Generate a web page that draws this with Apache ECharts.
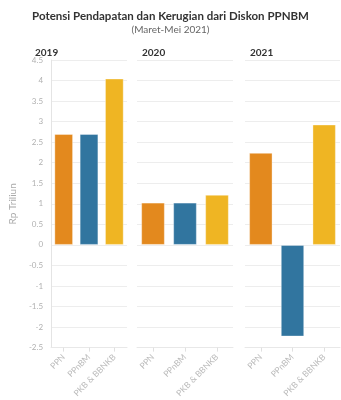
<!DOCTYPE html>
<html><head><meta charset="utf-8">
<script src="https://cdn.jsdelivr.net/npm/echarts@6/dist/echarts.min.js"></script>
<style>html,body{margin:0;padding:0;background:#fff}
#wrap{position:relative;width:341px;height:400px;overflow:hidden}
.p{position:absolute}
#t{left:0;top:0;width:341px;height:40px}
#p0{left:0;top:40px;width:130px;height:360px}
#p1{left:130px;top:40px;width:108px;height:360px}
#p2{left:238px;top:40px;width:103px;height:360px}
</style>
</head><body><div id="wrap"><div class="p" id="t"></div><div class="p" id="p0"></div><div class="p" id="p1"></div><div class="p" id="p2"></div></div>
<script>
const categories = ['PPN', 'PPnBM', 'PKB & BBNKB'];
const years = ['2019', '2020', '2021'];
const values2019 = [2.7, 2.7, 4.05];
const values2020 = [1.03, 1.03, 1.22];
const values2021 = [2.24, -2.23, 2.93];
const yTicks = { min: -2.5, max: 4.5, interval: 0.5 };
const colors = ['#E3891E', '#31759F', '#EFB523'];

const allValues = [values2019, values2020, values2021];
const font = 'Lato, "Open Sans", sans-serif';
const panelGrids = [
  { left: 30, top: 20, width: 97, height: 289 },
  { left: 7, top: 20, width: 96, height: 289 },
  { left: 7, top: 20, width: 95, height: 289 }
];

const head = echarts.init(document.getElementById('t'));
head.setOption({
  animation: false,
  title: [
    { text: 'Potensi Pendapatan dan Kerugian dari Diskon PPNBM', left: 'center', top: 5,
      textStyle: { fontFamily: font, fontSize: 11.5, fontWeight: 'bold', color: '#333' } },
    { text: '(Maret-Mei 2021)', left: 'center', top: 20,
      textStyle: { fontFamily: font, fontSize: 10, fontWeight: 'normal', color: '#666' } }
  ]
});

allValues.forEach((vals, i) => {
  const g = panelGrids[i];
  const c = echarts.init(document.getElementById('p' + i));
  c.setOption({
    animation: false,
    title: { text: years[i], left: g.left, top: 3,
      textStyle: { fontFamily: font, fontSize: 10, fontWeight: 'bold', color: '#333' } },
    grid: g,
    xAxis: {
      type: 'category', data: categories,
      axisLine: { onZero: false, show: true, lineStyle: { color: '#e8e8e8' } },
      axisTick: { show: true, alignWithLabel: true, length: 4, interval: 0, lineStyle: { color: '#e0e0e0' } },
      axisLabel: { rotate: 45, fontSize: 8.5, color: '#bbb', fontFamily: font, margin: 8, interval: 0 }
    },
    yAxis: {
      type: 'value', min: yTicks.min, max: yTicks.max, interval: yTicks.interval,
      name: i === 0 ? 'Rp Triliun' : '', nameLocation: 'middle', nameGap: 28, nameRotate: 90,
      nameTextStyle: { fontSize: 10, color: '#aaa', fontFamily: font },
      axisLine: { show: i === 0, lineStyle: { color: '#e4e4e4' } },
      axisTick: { show: false },
      axisLabel: { show: i === 0, fontSize: 8, color: '#b0b0b0', fontFamily: font, margin: 8 },
      splitLine: { show: true, lineStyle: { color: '#ededed' } }
    },
    series: [{
      type: 'bar', barWidth: '74%',
      data: vals.map((v, j) => ({ value: v, itemStyle: { color: colors[j], borderColor: 'rgba(255,255,255,0.35)', borderWidth: 1 } }))
    }]
  });
});
</script></body></html>
